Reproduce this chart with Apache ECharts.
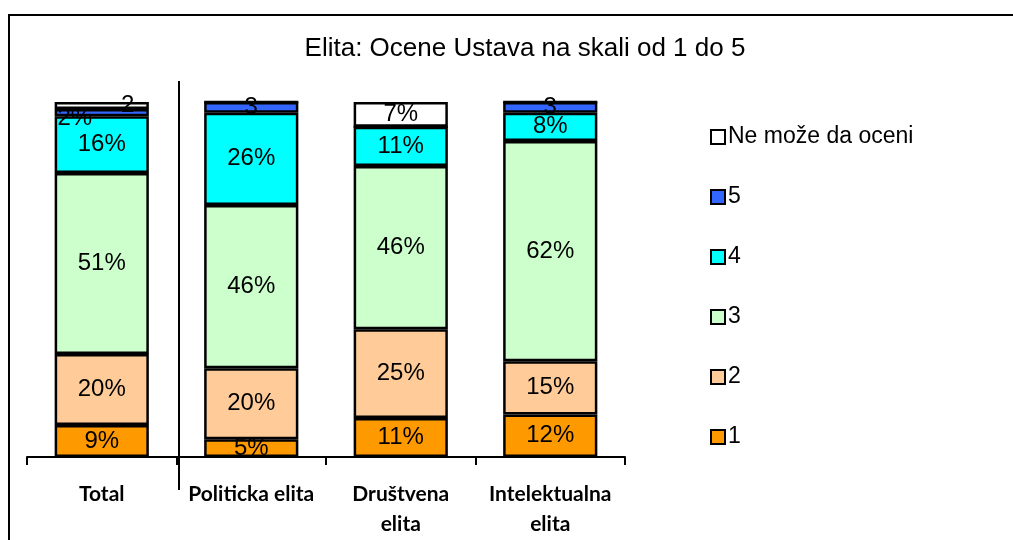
<!DOCTYPE html>
<html>
<head>
<meta charset="utf-8">
<script src="https://cdn.jsdelivr.net/npm/echarts@6/dist/echarts.min.js"></script>
<style>
  html, body { margin: 0; padding: 0; background: #fff; }
  #chart { width: 1013px; height: 540px; }
</style>
</head>
<body>
<div id="chart"></div>
<script>
// Kategorije (x osa) i udeli po oceni, u procentima
const categories = ['Total', 'Politicka elita', 'Društvena\nelita', 'Intelektualna\nelita'];
const ocena1 = [9, 5, 11, 12];
const ocena2 = [20, 20, 25, 15];
const ocena3 = [51, 46, 46, 62];
const ocena4 = [16, 26, 11, 8];
const ocena5 = [2, 3, 0, 3];
const neMoze = [2, 0, 7, 0];

// Tekst oznaka za male segmente (kako stoji na originalu)
const labels5 = ['2%', '3', '', '3'];
const labelsNeMoze = ['2', '', '7%', ''];

const legendOrder = ['Ne može da oceni', '5', '4', '3', '2', '1'];

const FONT = "'Liberation Sans', Arial, sans-serif";

const chart = echarts.init(document.getElementById('chart'));

function pct(p) { return p.value ? p.value + '%' : ''; }

function bar(name, data, color, fmt) {
  return {
    name,
    type: 'bar',
    stack: 'ukupno',
    barCategoryGap: '37%',
    data,
    itemStyle: { color, borderColor: '#000', borderWidth: 2.5 },
    label: {
      show: true,
      position: 'inside',
      color: '#000',
      fontFamily: FONT,
      fontSize: 24,
      formatter: fmt || pct,
    },
    emphasis: { disabled: true },
  };
}

// Pomeranje oznaka za "Total" kolonu (preklapanje kao u Excelu)
const data5 = ocena5.map((v, i) => i === 0 ? { value: v, label: { offset: [-27, 6] } } : v);
const dataNM = neMoze.map((v, i) => i === 0 ? { value: v, label: { offset: [26, 0] } } : v);

chart.setOption({
  animation: false,
  backgroundColor: '#fff',
  title: {
    text: 'Elita: Ocene Ustava na skali od 1 do 5',
    left: 520,
    top: 31,
    textAlign: 'center',
    textStyle: { fontFamily: FONT, fontSize: 26, fontWeight: 'normal', color: '#000' },
  },
  legend: {
    orient: 'vertical',
    left: 705,
    top: 120,
    itemWidth: 14,
    itemHeight: 14,
    itemGap: 36,
    icon: 'rect',
    data: legendOrder,
    itemStyle: { borderColor: '#000', borderWidth: 2 },
    textStyle: { fontFamily: FONT, fontSize: 23, color: '#000', lineHeight: 24, padding: [0, 0, 0, -2] },
  },
  grid: { left: 27, right: 388, top: 102, bottom: 83 },
  xAxis: {
    type: 'category',
    data: categories,
    axisLine: { lineStyle: { color: '#000', width: 2 } },
    axisTick: { show: true, length: 8, lineStyle: { color: '#000', width: 2 } },
    axisLabel: {
      color: '#000',
      fontFamily: 'Lato, sans-serif',
      fontWeight: 'bold',
      fontSize: 21,
      lineHeight: 30,
      margin: 22,
      interval: 0,
    },
  },
  yAxis: { type: 'value', min: 0, max: 100, show: false },
  series: [
    bar('1', ocena1, '#FF9900'),
    bar('2', ocena2, '#FFCC99'),
    bar('3', ocena3, '#CCFFCC'),
    bar('4', ocena4, '#00FFFF'),
    bar('5', data5, '#3366FF', (p) => labels5[p.dataIndex]),
    bar('Ne može da oceni', dataNM, '#FFFFFF', (p) => labelsNeMoze[p.dataIndex]),
  ],
});

// Okvir i vertikalna linija izmedju "Total" i ostalih kolona
const x0 = chart.convertToPixel({ xAxisIndex: 0 }, 0);
const x1 = chart.convertToPixel({ xAxisIndex: 0 }, 1);
const sepX = Math.round((x0 + x1) / 2) + 2;
chart.setOption({
  graphic: [
    {
      type: 'rect',
      shape: { x: 9, y: 15, width: 1100, height: 600 },
      style: { fill: 'none', stroke: '#000', lineWidth: 2 },
      silent: true,
    },
    {
      type: 'line',
      shape: { x1: sepX, y1: 81, x2: sepX, y2: 490 },
      style: { stroke: '#000', lineWidth: 2 },
      silent: true,
    },
  ],
});
</script>
</body>
</html>
